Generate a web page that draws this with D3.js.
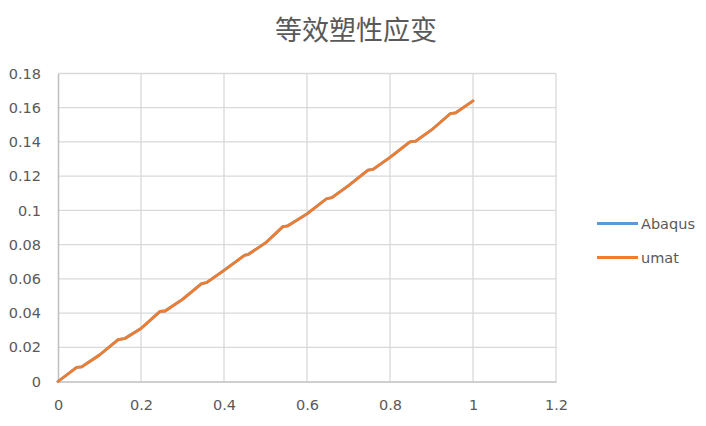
<!DOCTYPE html>
<html lang="zh">
<head>
  <meta charset="UTF-8">
  <title>等效塑性应变</title>
  <script src="https://cdn.jsdelivr.net/npm/d3@7/dist/d3.min.js"></script>
  <style>
    * { margin: 0; padding: 0; }
    body { background: #fff; width: 706px; height: 426px; overflow: hidden; }
    text { fill: #595959; }
  </style>
</head>
<body>
<div id="app"></div>
<script>
  // data
  let title = "等效塑性应变"
  let seriesNames = ["Abaqus", "umat"]
  let strainX = [0, 0.045, 0.057, 0.10, 0.145, 0.16, 0.20, 0.246, 0.258, 0.30, 0.346, 0.358, 0.40, 0.45, 0.458,
    0.50, 0.542, 0.554, 0.60, 0.647, 0.66, 0.70, 0.747, 0.759, 0.80, 0.848, 0.862, 0.90, 0.945, 0.958, 1.0]
  let abaqusY = [0, 0.0083, 0.0085, 0.0155, 0.0245, 0.0250, 0.031, 0.0410, 0.0412, 0.048, 0.0572, 0.0578, 0.065,
    0.0738, 0.0742, 0.081, 0.0905, 0.0910, 0.098, 0.1068, 0.1075, 0.1145, 0.1235, 0.124, 0.131, 0.1400, 0.1405,
    0.147, 0.1565, 0.157, 0.164]
  let umatY = [0, 0.0083, 0.0085, 0.0155, 0.0245, 0.0250, 0.031, 0.0410, 0.0412, 0.048, 0.0572, 0.0578, 0.065,
    0.0738, 0.0742, 0.081, 0.0905, 0.0910, 0.098, 0.1068, 0.1075, 0.1145, 0.1235, 0.124, 0.131, 0.1400, 0.1405,
    0.147, 0.1565, 0.157, 0.164]
  let xTicks = [0, 0.2, 0.4, 0.6, 0.8, 1, 1.2]
  let yTicks = [0, 0.02, 0.04, 0.06, 0.08, 0.1, 0.12, 0.14, 0.16, 0.18]

  let $width = 706, $height = 426
  let $left = 58, $right = 556, $top = 73.5, $bottom = 381.5
  let colors = ["#5B9BD5", "#ED7D31"]

  let svg = d3.select("#app").append("svg").attr("width", $width).attr("height", $height)

  let x = d3.scaleLinear().domain([0, 1.2]).range([$left, $right])
  let y = d3.scaleLinear().domain([0, 0.18]).range([$bottom, $top])

  // gridlines
  svg.append("g").selectAll("line").data(yTicks.slice(1)).enter().append("line")
    .attr("x1", $left).attr("x2", $right)
    .attr("y1", d => y(d)).attr("y2", d => y(d))
    .attr("stroke", "#D9D9D9").attr("stroke-width", 1.3)
  svg.append("g").selectAll("line").data(xTicks.slice(1)).enter().append("line")
    .attr("y1", $top).attr("y2", $bottom)
    .attr("x1", d => x(d)).attr("x2", d => x(d))
    .attr("stroke", "#D9D9D9").attr("stroke-width", 1.3)

  // axes
  let xAxis = d3.axisBottom(x).tickValues(xTicks).tickSize(0).tickPadding(18).tickFormat(d => String(d))
  let gx = svg.append("g").attr("transform", `translate(0,${$bottom})`).call(xAxis)
  let yAxis = d3.axisLeft(y).tickValues(yTicks).tickSize(0).tickPadding(17).tickFormat(d => String(d))
  let gy = svg.append("g").attr("transform", `translate(${$left},0)`).call(yAxis)
  ;[gx, gy].forEach(g => {
    g.select(".domain").attr("stroke", "#BFBFBF").attr("stroke-width", 1.5)
    g.selectAll("text").attr("font-family", "DejaVu Sans").attr("font-size", "14.5px").attr("fill", "#595959")
  })

  // series
  let line = d3.line().x(d => x(d[0])).y(d => y(d[1]))
  let series = [abaqusY, umatY].map(ys => strainX.map((v, i) => [v, ys[i]]))
  svg.append("g").selectAll("path").data(series).enter().append("path")
    .attr("d", line)
    .attr("fill", "none")
    .attr("stroke", (d, i) => colors[i])
    .attr("stroke-width", 2.8)
    .attr("stroke-linejoin", "round")
    .attr("stroke-linecap", "round")

  // title
  svg.append("text").text(title)
    .attr("x", 356).attr("y", 40)
    .attr("text-anchor", "middle")
    .attr("font-family", "Noto Sans CJK SC")
    .attr("font-size", "27px")
    .attr("fill", "#595959")

  // legend
  let legend = svg.append("g").selectAll("g").data(seriesNames).enter().append("g")
    .attr("transform", (d, i) => `translate(597,${223.5 + i * 34})`)
  legend.append("line").attr("x1", 0).attr("x2", 41).attr("y1", 0).attr("y2", 0)
    .attr("stroke", (d, i) => colors[i]).attr("stroke-width", 2.8)
  legend.append("text").text(d => d)
    .attr("x", 44).attr("y", 0).attr("dy", "0.36em")
    .attr("font-family", "DejaVu Sans").attr("font-size", "14.5px").attr("fill", "#595959")
</script>
</body>
</html>
